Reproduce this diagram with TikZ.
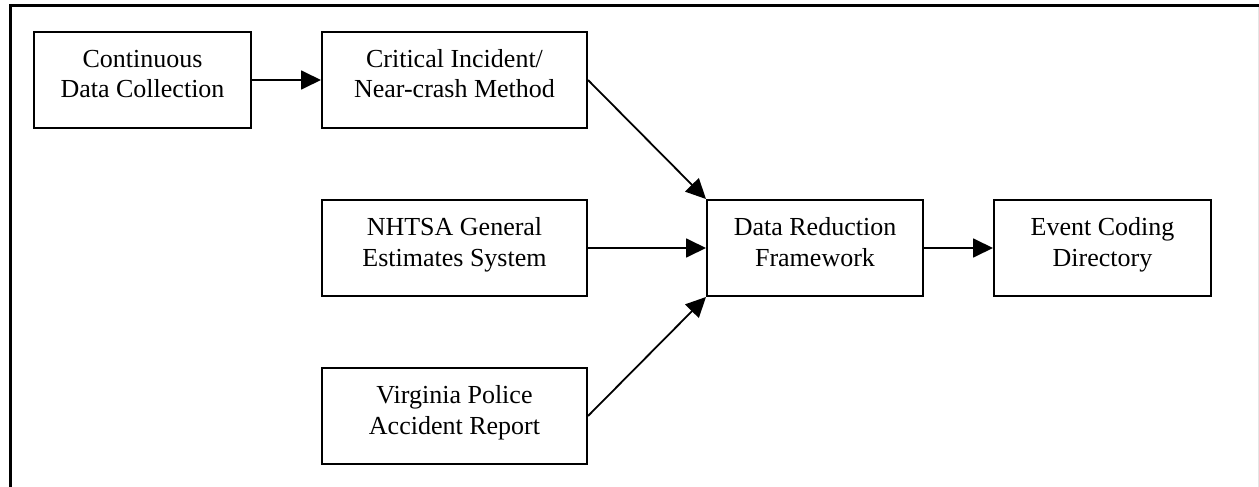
\documentclass[tikz,border=0pt]{standalone}
\usepackage{fontspec}
\setmainfont{Liberation Serif}
\usetikzlibrary{arrows.meta}
\tikzset{
  box/.style={draw=black, line width=2pt, inner sep=0pt, align=center,
    minimum height=96pt, font=\fontsize{26}{31}\selectfont,
    text height=36pt, text depth=0pt},
  arr/.style={line width=1.8pt, -{Triangle[length=20pt,width=19pt]}}
}
\begin{document}
\begin{tikzpicture}[x=1pt,y=-1pt]
\useasboundingbox (0,0) rectangle (1259,487);
\fill[white] (0,0) rectangle (1259,487);
% outer frame
\draw[line width=3pt] (10,487) -- (10,6) -- (1259,6);
\draw[black!10, line width=1pt] (1258.5,7.5) -- (1258.5,487);
% boxes
\node[box, minimum width=217pt] (cdc) at (142.5,80) {Continuous\\Data Collection};
\node[box, minimum width=265pt] (ci)  at (454.5,80) {Critical Incident/\\Near-crash Method};
\node[box, minimum width=265pt] (gen) at (454.5,248) {NHTSA General\\Estimates System};
\node[box, minimum width=265pt] (vpr) at (454.5,416) {Virginia Police\\Accident Report};
\node[box, minimum width=216pt] (drf) at (815,248) {Data Reduction\\Framework};
\node[box, minimum width=217pt] (ecd) at (1102.5,248) {Event Coding\\Directory};
% connectors
\draw[arr] (cdc.east) -- (ci.west);
\draw[arr] (ci.east) -- (drf.north west);
\draw[arr] (gen.east) -- (drf.west);
\draw[arr] (vpr.east) -- (drf.south west);
\draw[arr] (drf.east) -- (ecd.west);
\end{tikzpicture}
\end{document}
